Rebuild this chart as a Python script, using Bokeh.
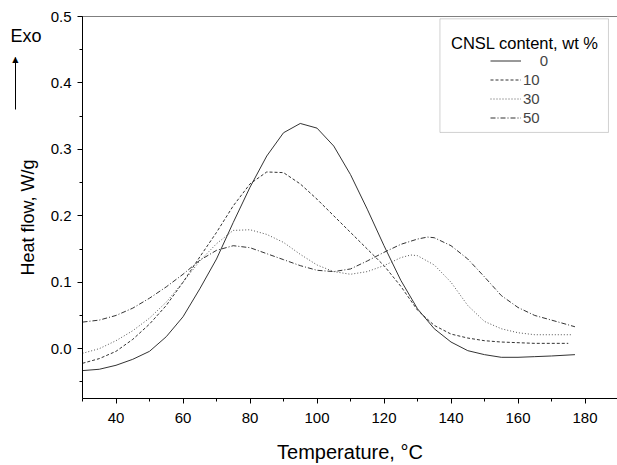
from bokeh.plotting import figure
from bokeh.models import (Range1d, SingleIntervalTicker, FixedTicker, PrintfTickFormatter,
                          CustomJSTickFormatter, Span, Legend, LegendItem, Label,
                          BoxAnnotation, LinearAxis)
from bokeh.embed import file_html
from bokeh.resources import INLINE

# ---- data ----
t0 = [30, 35, 40, 45, 50, 55, 60, 65, 70, 75, 80, 85, 90, 95, 100, 105, 110, 115, 120,
      125, 130, 135, 140, 145, 150, 155, 160, 165, 170, 177]
hf0 = [-0.033, -0.031, -0.025, -0.016, -0.004, 0.018, 0.048, 0.090, 0.135, 0.190, 0.243,
       0.290, 0.325, 0.339, 0.332, 0.305, 0.262, 0.210, 0.155, 0.103, 0.060, 0.030, 0.010,
       -0.003, -0.009, -0.013, -0.013, -0.012, -0.011, -0.009]

t10 = [30, 35, 40, 45, 50, 55, 60, 65, 70, 75, 80, 85, 90, 95, 100, 105, 110, 115, 120,
       125, 130, 135, 140, 145, 150, 155, 160, 165, 170, 175]
hf10 = [-0.022, -0.015, -0.004, 0.014, 0.037, 0.065, 0.100, 0.138, 0.175, 0.215, 0.248,
        0.266, 0.265, 0.248, 0.225, 0.200, 0.175, 0.150, 0.125, 0.094, 0.058, 0.035, 0.022,
        0.016, 0.012, 0.010, 0.009, 0.008, 0.008, 0.008]

t30 = [30, 35, 40, 45, 50, 55, 60, 65, 70, 75, 80, 85, 90, 95, 100, 105, 110, 115, 120,
       125, 128, 130, 135, 140, 145, 150, 155, 160, 165, 170, 176]
hf30 = [-0.007, 0.000, 0.012, 0.027, 0.046, 0.070, 0.100, 0.132, 0.158, 0.178, 0.179,
        0.172, 0.160, 0.142, 0.126, 0.116, 0.112, 0.116, 0.125, 0.137, 0.141, 0.140, 0.126,
        0.100, 0.065, 0.041, 0.030, 0.024, 0.021, 0.021, 0.021]

t50 = [30, 35, 40, 45, 50, 55, 60, 65, 70, 75, 80, 85, 90, 95, 100, 105, 110, 115, 120,
       125, 130, 133, 135, 140, 145, 150, 155, 160, 165, 170, 177]
hf50 = [0.040, 0.043, 0.050, 0.061, 0.076, 0.093, 0.112, 0.133, 0.148, 0.155, 0.152,
        0.143, 0.134, 0.125, 0.118, 0.116, 0.120, 0.132, 0.145, 0.157, 0.165, 0.168, 0.167,
        0.155, 0.135, 0.108, 0.080, 0.062, 0.050, 0.043, 0.033]

legend_title = "CNSL content, wt %"
labels = ["\u2007\u20070", "10", "30", "50"]
x_title = "Temperature, \u00b0C"
y_title = "Heat flow, W/g"
exo_text = "Exo"

FONT = "Liberation Sans"
LC = "#333333"
NB = "\u00a0"

p = figure(width=617, height=465, output_backend="svg", toolbar_location=None,
           x_range=Range1d(30, 189.7), y_range=Range1d(-0.075, 0.5),
           min_border_left=82, min_border_top=16, min_border_right=0, min_border_bottom=66)
p.outline_line_color = None
p.xgrid.visible = False
p.ygrid.visible = False

r0 = p.line(t0, hf0, line_color=LC, line_width=1)
r10 = p.line(t10, hf10, line_color=LC, line_width=1, line_dash="3 2")
r30 = p.line(t30, hf30, line_color="#555555", line_width=1, line_dash="1 2")
r50 = p.line(t50, hf50, line_color=LC, line_width=1, line_dash="5 2 1 2")

for ax in (p.xaxis[0], p.yaxis[0]):
    ax.axis_line_color = "black"
    ax.major_tick_line_color = "black"
    ax.minor_tick_line_color = "black"
    ax.major_tick_in = 0
    ax.major_tick_out = 5
    ax.minor_tick_in = 0
    ax.minor_tick_out = 3
    ax.major_label_text_font = FONT
    ax.major_label_text_font_size = "15px"
    ax.major_label_text_color = "black"
    ax.axis_label_text_font = FONT
    ax.axis_label_text_font_style = "normal"
    ax.axis_label_text_color = "black"

p.xaxis[0].ticker = SingleIntervalTicker(interval=20, num_minor_ticks=2)
p.yaxis[0].ticker = SingleIntervalTicker(interval=0.1, num_minor_ticks=2)
p.yaxis[0].formatter = PrintfTickFormatter(format="%.1f")
p.xaxis[0].axis_label = x_title
p.xaxis[0].axis_label_text_font_size = "20px"
p.xaxis[0].major_label_standoff = 9
p.yaxis[0].major_label_standoff = 6
p.xaxis[0].axis_label_standoff = 15

# second left axis: carries "Exo" (as its only tick label) and the y title
ax_exo = LinearAxis(ticker=FixedTicker(ticks=[0.471]),
                    formatter=CustomJSTickFormatter(code="return '%s'" % exo_text),
                    axis_line_color=None, major_tick_line_color=None,
                    minor_tick_line_color=None, major_tick_in=0, major_tick_out=0,
                    minor_tick_in=0, minor_tick_out=0, major_label_standoff=6,
                    major_label_text_font=FONT, major_label_text_font_size="18px",
                    major_label_text_color="black",
                    axis_label=y_title + NB * 4, axis_label_standoff=-31,
                    axis_label_text_font=FONT, axis_label_text_font_size="18px",
                    axis_label_text_font_style="normal", axis_label_text_color="black")
p.add_layout(ax_exo, "left")

# third left axis: its short bounded line is the Exo arrow, tick label is the head
ax_arrow = LinearAxis(bounds=(0.36, 0.438), ticker=FixedTicker(ticks=[0.435]),
                      formatter=CustomJSTickFormatter(code="return '\u25b2'"),
                      axis_line_color="black", axis_line_width=1,
                      major_tick_line_color=None, minor_tick_line_color=None,
                      major_tick_in=0, major_tick_out=0, minor_tick_in=0, minor_tick_out=0,
                      major_label_standoff=-3, major_label_text_font="DejaVu Sans",
                      major_label_text_font_size="8px", major_label_text_color="black")
p.add_layout(ax_arrow, "left")

# frame lines (top and left)
p.add_layout(Span(location=0.5, dimension="width", line_color="black", line_width=1))
p.add_layout(Span(location=30, dimension="height", line_color="black", line_width=1))

# legend box + title
p.add_layout(BoxAnnotation(left=136.7, right=187.0, top=0.4965, bottom=0.3255,
                           fill_alpha=0, line_color="#666666", line_width=1))
p.add_layout(Label(x=140.0, y=0.4605, text=legend_title, text_font=FONT,
                   text_font_size="16.5px", text_baseline="middle", text_color="black"))

items = [LegendItem(label=l, renderers=[r]) for l, r in zip(labels, [r0, r10, r30, r50])]
leg = Legend(items=items, location=(408, 271), border_line_color=None,
             background_fill_alpha=0, padding=0, margin=0, spacing=0,
             label_text_font=FONT, label_text_font_size="15px",
             label_height=19, glyph_height=19, glyph_width=31, label_standoff=2)
p.add_layout(leg)

open("out.html", "w").write(file_html(p, INLINE))
